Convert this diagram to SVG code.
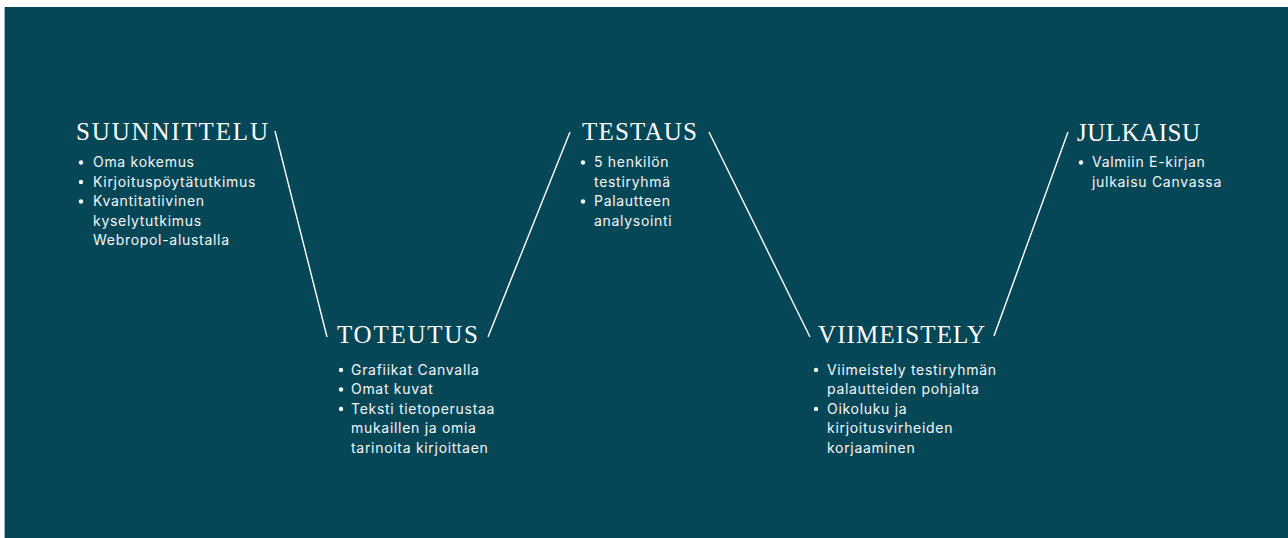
<svg xmlns="http://www.w3.org/2000/svg" width="1288" height="538" viewBox="0 0 1288 538">
<style>
.t{font-family:"Liberation Serif","Times New Roman",serif;font-size:25px;fill:#ffffff}
.b{font-family:Inter,"Noto Sans",sans-serif;font-size:14px;letter-spacing:0.7px;fill:#f4f6f7}
.c line{stroke:#ffffff;stroke-width:1.4}
.d{fill:#ffffff}
</style>
<rect x="0" y="0" width="1288" height="538" fill="#ffffff"/>
<rect x="4.5" y="7" width="1283.5" height="531" fill="#064757"/>
<line x1="4.5" y1="7" x2="4.5" y2="538" stroke="#a9b4b8" stroke-width="1"/>
<g class="c" id="connectors">
<line x1="275" y1="131" x2="327" y2="337"/>
<line x1="488" y1="337" x2="570" y2="132"/>
<line x1="709" y1="132" x2="810" y2="337"/>
<line x1="994" y1="336" x2="1068" y2="132"/>
</g>
<g id="suunnittelu">
<text class="t" x="76" y="140" textLength="192" lengthAdjust="spacing">SUUNNITTELU</text>
<circle class="d" cx="81" cy="162.5" r="2.2"/><text class="b" x="93" y="167">Oma kokemus</text>
<circle class="d" cx="81" cy="182" r="2.2"/><text class="b" x="93" y="187">Kirjoituspöytätutkimus</text>
<circle class="d" cx="81" cy="201.5" r="2.2"/><text class="b" x="93" y="206">Kvantitatiivinen</text>
<text class="b" x="93" y="226">kyselytutkimus</text>
<text class="b" x="93" y="245">Webropol-alustalla</text>
</g>
<g id="toteutus">
<text class="t" x="337" y="343" textLength="141" lengthAdjust="spacing">TOTEUTUS</text>
<circle class="d" cx="341" cy="370" r="2.2"/><text class="b" x="351" y="375">Grafiikat Canvalla</text>
<circle class="d" cx="341" cy="389.5" r="2.2"/><text class="b" x="351" y="394">Omat kuvat</text>
<circle class="d" cx="341" cy="409" r="2.2"/><text class="b" x="351" y="414">Teksti tietoperustaa</text>
<text class="b" x="351" y="433">mukaillen ja omia</text>
<text class="b" x="351" y="453">tarinoita kirjoittaen</text>
</g>
<g id="testaus">
<text class="t" x="582" y="140" textLength="115" lengthAdjust="spacing">TESTAUS</text>
<circle class="d" cx="583" cy="162.5" r="2.2"/><text class="b" x="594" y="167">5 henkilön</text>
<text class="b" x="594" y="187">testiryhmä</text>
<circle class="d" cx="583" cy="201.5" r="2.2"/><text class="b" x="594" y="206">Palautteen</text>
<text class="b" x="594" y="226">analysointi</text>
</g>
<g id="viimeistely">
<text class="t" x="818" y="343" textLength="167" lengthAdjust="spacing">VIIMEISTELY</text>
<circle class="d" cx="816" cy="370" r="2.2"/><text class="b" x="827" y="375">Viimeistely testiryhmän</text>
<text class="b" x="827" y="394">palautteiden pohjalta</text>
<circle class="d" cx="816" cy="409" r="2.2"/><text class="b" x="827" y="414">Oikoluku ja</text>
<text class="b" x="827" y="433">kirjoitusvirheiden</text>
<text class="b" x="827" y="453">korjaaminen</text>
</g>
<g id="julkaisu">
<text class="t" x="1077" y="141" textLength="123" lengthAdjust="spacing">JULKAISU</text>
<circle class="d" cx="1081" cy="162.5" r="2.2"/><text class="b" x="1092" y="167">Valmiin E-kirjan</text>
<text class="b" x="1092" y="187">julkaisu Canvassa</text>
</g>
</svg>
